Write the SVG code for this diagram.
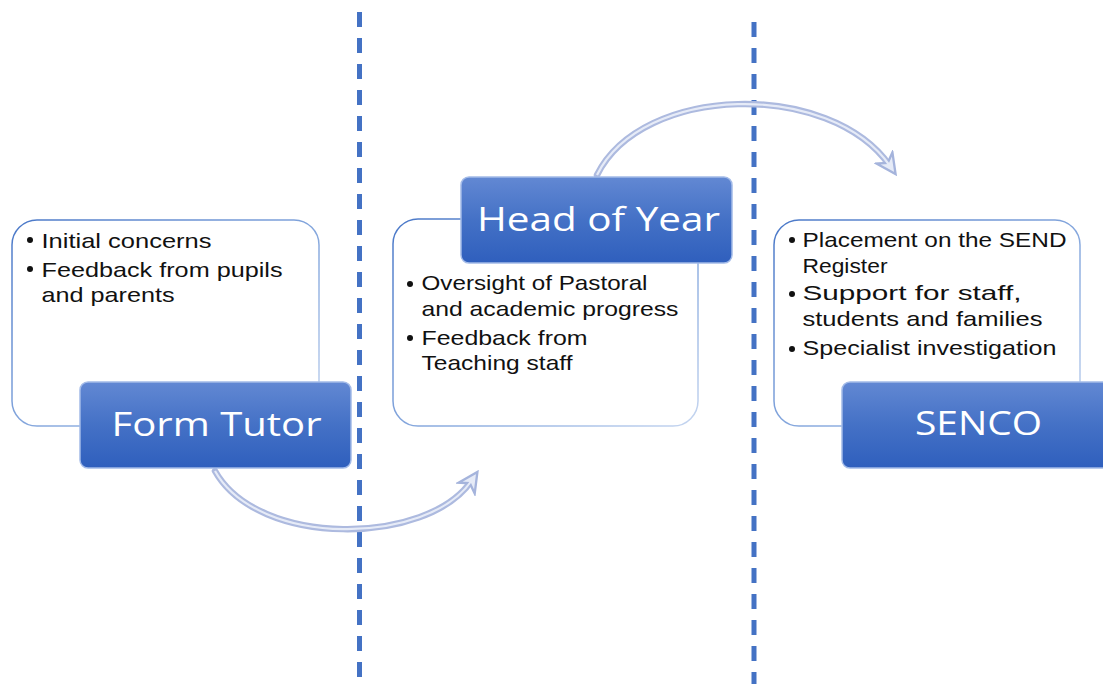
<svg xmlns="http://www.w3.org/2000/svg" width="1103" height="684" viewBox="0 0 1103 684">
<defs>
<linearGradient id="hdr" x1="0" y1="0" x2="0" y2="1">
<stop offset="0" stop-color="#6288d3"/>
<stop offset="0.5" stop-color="#4471c6"/>
<stop offset="1" stop-color="#2f5fbd"/>
</linearGradient>
<linearGradient id="brd" x1="0" y1="0" x2="1" y2="1">
<stop offset="0" stop-color="#4a78c8"/>
<stop offset="0.6" stop-color="#8eaee0"/>
<stop offset="1" stop-color="#c6d6f0"/>
</linearGradient>
<marker id="ah" viewBox="0 0 12 12" refX="6" refY="6" markerWidth="3.6" markerHeight="3.6" orient="auto" markerUnits="strokeWidth">
<path d="M1,1 L11,6 L1,11 L4,6 Z" fill="#e6ebf7" stroke="#a5b4dc" stroke-width="1.2"/>
</marker>
<style>
.box{fill:#ffffff;stroke:url(#brd);stroke-width:1.5}
.hd{fill:url(#hdr);stroke:#a3bbe8;stroke-width:1.5}
.ht{font-family:"Open Sans","Noto Sans",sans-serif;font-size:32px;fill:#ffffff}
.bt{font-family:"Liberation Sans",Arial,sans-serif;font-size:21px;fill:#111111}
.dash{stroke:#4472c4;stroke-width:5;stroke-dasharray:15 11}
.arcO{fill:none;stroke:#adbadf;stroke-width:6.5;stroke-linecap:round}
.arcI{fill:none;stroke:#e6ebf7;stroke-width:2.2}
</style>
</defs>
<rect width="1103" height="684" fill="#ffffff"/>
<g id="dividers">
<line class="dash" x1="359.5" y1="12" x2="359.5" y2="684"/>
<line class="dash" x1="754" y1="22" x2="754" y2="684"/>
</g>
<g id="connectors">
<path class="arcO" d="M215,471 C258,548 428,546 472,480" marker-end="url(#ah)"/>
<path class="arcI" d="M215,471 C258,548 428,546 472,480"/>
<path class="arcO" d="M597,175 C642,84 830,80 890,166" marker-end="url(#ah)"/>
<path class="arcI" d="M597,175 C642,84 830,80 890,166"/>
</g>
<g id="form-tutor">
<rect class="box" x="12" y="220" width="307" height="206" rx="25"/>
<circle cx="30" cy="240" r="3" fill="#111"/>
<circle cx="30" cy="269" r="3" fill="#111"/>
<text class="bt" x="41.5" y="247.5" textLength="170" lengthAdjust="spacingAndGlyphs">Initial concerns</text>
<text class="bt" x="41.5" y="276.5" textLength="241" lengthAdjust="spacingAndGlyphs">Feedback from pupils</text>
<text class="bt" x="41.5" y="301.5" textLength="133" lengthAdjust="spacingAndGlyphs">and parents</text>
<rect class="hd" x="80" y="382" width="271" height="86" rx="8"/>
<text class="ht" x="111.5" y="436" textLength="210" lengthAdjust="spacingAndGlyphs">Form Tutor</text>
</g>
<g id="head-of-year">
<rect class="box" x="393" y="219" width="305" height="207" rx="25"/>
<circle cx="410" cy="284" r="3" fill="#111"/>
<circle cx="410" cy="338" r="3" fill="#111"/>
<text class="bt" x="421.5" y="290" textLength="226" lengthAdjust="spacingAndGlyphs">Oversight of Pastoral</text>
<text class="bt" x="421.5" y="316" textLength="257" lengthAdjust="spacingAndGlyphs">and academic progress</text>
<text class="bt" x="421.5" y="345" textLength="166" lengthAdjust="spacingAndGlyphs">Feedback from</text>
<text class="bt" x="421.5" y="370" textLength="151" lengthAdjust="spacingAndGlyphs">Teaching staff</text>
<rect class="hd" x="461" y="177" width="271" height="86" rx="8"/>
<text class="ht" x="477" y="230.5" textLength="243" lengthAdjust="spacingAndGlyphs">Head of Year</text>
</g>
<g id="senco">
<rect class="box" x="774" y="220" width="306" height="206" rx="25"/>
<circle cx="792" cy="240" r="3" fill="#111"/>
<circle cx="792" cy="294" r="3" fill="#111"/>
<circle cx="792" cy="349" r="3" fill="#111"/>
<text class="bt" x="802.5" y="247" textLength="264" lengthAdjust="spacingAndGlyphs">Placement on the SEND</text>
<text class="bt" x="802.5" y="273" textLength="85" lengthAdjust="spacingAndGlyphs">Register</text>
<text class="bt" x="802.5" y="300" textLength="219" lengthAdjust="spacingAndGlyphs">Support for staff,</text>
<text class="bt" x="802.5" y="326" textLength="240" lengthAdjust="spacingAndGlyphs">students and families</text>
<text class="bt" x="802.5" y="355" textLength="254" lengthAdjust="spacingAndGlyphs">Specialist investigation</text>
<rect class="hd" x="842" y="382" width="275" height="86" rx="8"/>
<text class="ht" x="915" y="435" textLength="127" lengthAdjust="spacingAndGlyphs">SENCO</text>
</g>
</svg>
